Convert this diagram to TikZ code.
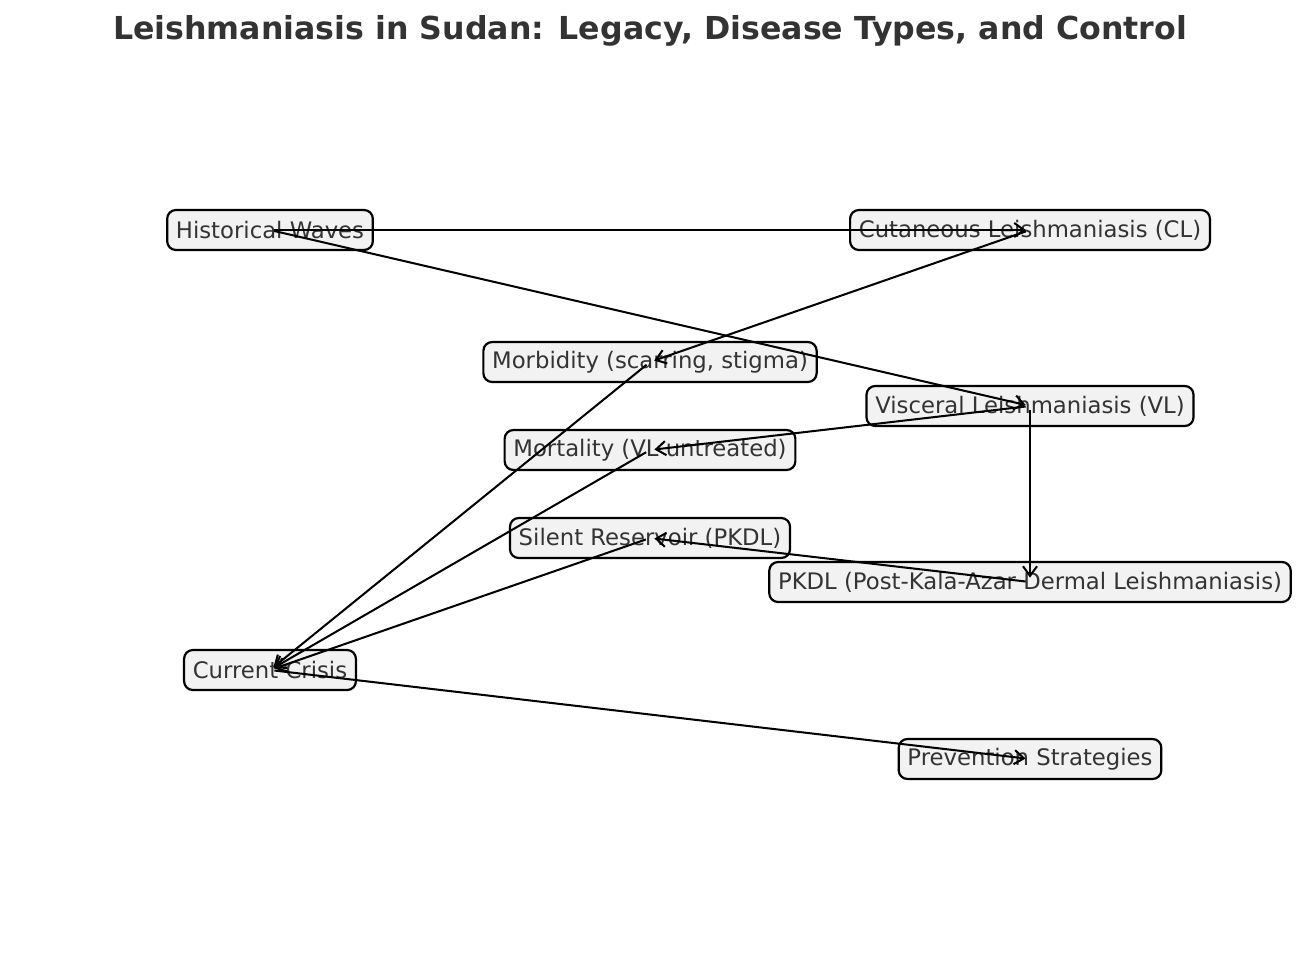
\documentclass[tikz,border=0pt]{standalone}
\usepackage{fontspec}
\setmainfont{DejaVu Sans}
\usetikzlibrary{arrows.meta}

\definecolor{txtgray}{HTML}{333333}
\definecolor{boxfill}{HTML}{F2F2F2}

\newcommand{\pxscl}{0.02}
\newcommand{\coordpx}[1]{#1*\pxscl}
\newcommand{\bx}{\node[box]}

\tikzset{
    box/.style={draw=black, fill=boxfill, rounded corners=5pt, line width=1.25pt,
        text=txtgray, font=\fontsize{12.95}{15}\selectfont,
        inner xsep=5pt, minimum height=\coordpx{40}cm},
    edge/.style={line width=1.15pt, -{Straight Barb[length=5.5pt,width=8pt]},
        shorten >=2.5pt, shorten <=2.5pt}
}

\begin{document}
\begin{tikzpicture}[y=-1cm]
            \useasboundingbox (0,0) rectangle (\coordpx{1300}, \coordpx{952});
            \node[text=txtgray, font=\fontsize{18}{22}\selectfont\bfseries] (title)
                at (\coordpx{650}, \coordpx{31}) {Leishmaniasis in Sudan: Legacy, Disease Types, and Control};

            \bx (hw) at (\coordpx{270}, \coordpx{230}) {Historical Waves};
            \bx (cl) at (\coordpx{1030}, \coordpx{230}) {Cutaneous Leishmaniasis (CL)};
            \bx (morb) at (\coordpx{650}, \coordpx{362}) {Morbidity (scarring, stigma)};
            \bx (vl) at (\coordpx{1030}, \coordpx{406}) {Visceral Leishmaniasis (VL)};
            \bx (mort) at (\coordpx{650}, \coordpx{450}) {Mortality (VL untreated)};
            \bx (sr) at (\coordpx{650}, \coordpx{538}) {Silent Reservoir (PKDL)};
            \bx (pkdl) at (\coordpx{1030}, \coordpx{582}) {PKDL (Post-Kala-Azar Dermal Leishmaniasis)};
            \bx (cc) at (\coordpx{270}, \coordpx{670}) {Current Crisis};
            \bx (prev) at (\coordpx{1030}, \coordpx{759}) {Prevention Strategies};

            \draw[edge]
                (hw.center) -- (cl.center);
            \draw[edge]
                (hw.center) -- (vl.center);
            \draw[edge]
                (cl.center) -- (morb.center);
            \draw[edge]
                (vl.center) -- (mort.center);
            \draw[edge]
                (vl.center) -- (pkdl.center);
            \draw[edge]
                (pkdl.center) -- (sr.center);
            \draw[edge]
                (morb.center) -- (cc.center);
            \draw[edge]
                (mort.center) -- (cc.center);
            \draw[edge]
                (sr.center) -- (cc.center);
            \draw[edge]
                (cc.center) -- (prev.center);
        \end{tikzpicture}
\end{document}
